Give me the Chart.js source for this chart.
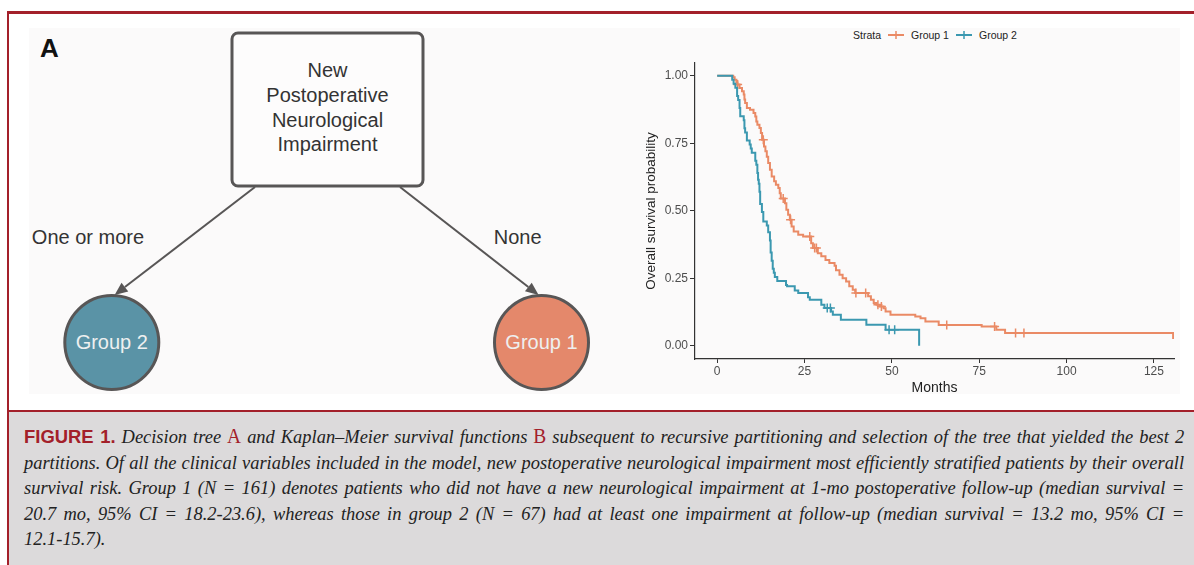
<!DOCTYPE html>
<html>
<head>
<meta charset="utf-8">
<script src="https://cdn.jsdelivr.net/npm/chart.js@4.4.0/dist/chart.umd.min.js"></script>
<style>
  body { margin: 0; width: 1194px; height: 565px; background: #fff; position: relative; overflow: hidden;
         font-family: "Liberation Sans", Arial, sans-serif; }
  .red-line { position: absolute; background: #a3202a; }
  #panel { position: absolute; left: 29px; top: 28px; width: 1151px; height: 366px; background: #fbfafa; }
  #capBox { position: absolute; left: 9px; top: 412px; width: 1185px; height: 153px; background: #dcdadb; }
  #tree { position: absolute; left: 0; top: 0; }
  #km { position: absolute; left: 612px; top: 20px; }
  #legend { position: absolute; left: 853px; top: 28px; height: 14px; font-size: 10.5px; color: #222;
            display: flex; align-items: center; white-space: nowrap; }
  #legend svg { margin: 0 7px 0 7px; }
  .caption { position: absolute; left: 24px; width: 1196px; transform: scaleX(0.97); transform-origin: 0 0;
             font-family: "Liberation Serif", "Times New Roman", serif;
             font-style: italic; font-size: 19px; line-height: 25.5px; color: #222; }
  .caption div { text-align: justify; text-align-last: justify; height: 25.5px; }
  .caption div.last { text-align-last: left; }
  .fig { font-family: "Liberation Sans", Arial, sans-serif; font-style: normal; font-weight: bold; font-size: 19px;
         color: #a3202a; letter-spacing: 0; }
  .lab { font-style: normal; color: #a3202a; font-size: 20px; }
</style>
</head>
<body>
<div class="red-line" style="left:7px;top:11px;width:1187px;height:2.5px"></div>
<div class="red-line" style="left:7px;top:11px;width:2px;height:554px"></div>
<div id="panel"></div>
<div class="red-line" style="left:7px;top:410px;width:1187px;height:2.5px"></div>
<div id="capBox"></div>

<svg id="tree" width="612" height="400" font-family="Liberation Sans, Arial, sans-serif">
  <text x="40" y="57" font-size="26" font-weight="bold" fill="#111">A</text>
  <rect x="232" y="33" width="191" height="153" rx="6" fill="#fdfcfc" stroke="#585656" stroke-width="3"/>
  <g font-size="20" fill="#333" text-anchor="middle" dominant-baseline="central">
    <text x="327.5" y="70">New</text>
    <text x="327.5" y="95">Postoperative</text>
    <text x="327.5" y="119.5">Neurological</text>
    <text x="327.5" y="144">Impairment</text>
    <text x="88" y="237">One or more</text>
    <text x="517.6" y="237">None</text>
  </g>
  <g id="arrows" stroke="#585656" stroke-width="2" fill="#585656"></g>
  <circle cx="111.8" cy="342.5" r="47" fill="#5a93a6" stroke="#585656" stroke-width="3"/>
  <circle cx="541.5" cy="342.5" r="47" fill="#e4886b" stroke="#585656" stroke-width="3"/>
  <g font-size="20" fill="#eef0f0" text-anchor="middle" dominant-baseline="central">
    <text x="111.8" y="342">Group 2</text>
    <text x="541.5" y="342">Group 1</text>
  </g>
  <text x="627" y="56.5" font-size="25" font-weight="bold" fill="#111">B</text>
</svg>

<div id="legend">
  <span>Strata</span>
  <svg width="16" height="10"><line x1="0" y1="5" x2="16" y2="5" stroke="#ea8a65" stroke-width="2"/><line x1="8" y1="1" x2="8" y2="9" stroke="#ea8a65" stroke-width="1.5"/></svg>
  <span>Group 1</span>
  <svg width="16" height="10"><line x1="0" y1="5" x2="16" y2="5" stroke="#3b98b0" stroke-width="2"/><line x1="8" y1="1" x2="8" y2="9" stroke="#3b98b0" stroke-width="1.5"/></svg>
  <span>Group 2</span>
</div>

<canvas id="km" width="568" height="375"></canvas>

<div class="caption" style="top:424px">
  <div><span class="fig">FIGURE 1.</span> Decision tree <span class="lab">A</span> and Kaplan–Meier survival functions <span class="lab">B</span> subsequent to recursive partitioning and selection of the tree that yielded the best 2</div>
  <div>partitions. Of all the clinical variables included in the model, new postoperative neurological impairment most efficiently stratified patients by their overall</div>
  <div>survival risk. Group 1 (N = 161) denotes patients who did not have a new neurological impairment at 1-mo postoperative follow-up (median survival =</div>
  <div>20.7 mo, 95% CI = 18.2-23.6), whereas those in group 2 (N = 67) had at least one impairment at follow-up (median survival = 13.2 mo, 95% CI =</div>
  <div class="last">12.1-15.7).</div>
</div>

<script>
// Kaplan-Meier steps: time (months) and survival after the drop
const group1Time = [0, 4.6, 5.0, 5.5, 5.8, 6.4, 7.1, 7.6, 7.8, 8.0, 8.5, 9.4, 10.4, 10.9, 11.2, 11.5, 12.1, 12.5,
  12.85, 13.4, 13.8, 14.2, 14.6, 15.1, 15.6, 16.3, 16.8, 17.5, 17.9, 18.2, 19.4, 19.8, 20.3, 20.8, 21.3, 21.9,
  23.2, 24.6, 26.9, 27.4, 28.8, 29.8, 31.0, 32.1, 33.6, 34.0, 35.0, 35.9, 36.9, 37.8, 38.8, 39.5, 43.2, 44.0,
  44.8, 45.6, 46.6, 47.6, 48.2, 49.6, 56.7, 58.2, 59.6, 63.4, 75.7, 79.9, 82.4, 130.5];
const group1Surv = [1, 0.994, 0.985, 0.975, 0.967, 0.954, 0.942, 0.93, 0.912, 0.899, 0.88, 0.874, 0.862, 0.849,
  0.83, 0.818, 0.806, 0.788, 0.763, 0.738, 0.72, 0.70, 0.677, 0.652, 0.627, 0.609, 0.596, 0.584, 0.565, 0.545,
  0.528, 0.504, 0.485, 0.467, 0.442, 0.423, 0.411, 0.405, 0.38, 0.362, 0.343, 0.331, 0.318, 0.306, 0.296, 0.28,
  0.263, 0.25, 0.238, 0.22, 0.207, 0.195, 0.183, 0.17, 0.158, 0.152, 0.145, 0.139, 0.127, 0.115, 0.108, 0.102,
  0.09, 0.077, 0.071, 0.059, 0.047, 0.025];
const group1Censor = [5.85, 13.2, 18.9, 21.0, 26.5, 27.9, 28.4, 39.7, 42.5, 46.0, 47.0, 65.7, 79.4, 85.4, 87.8];

const group2Time = [0, 4.3, 4.7, 5.2, 5.7, 6.0, 6.4, 6.6, 7.6, 7.8, 8.0, 8.5, 9.3, 9.6, 9.9, 10.9, 11.2, 11.5,
  11.7, 11.9, 12.1, 12.3, 12.8, 13.2, 14.2, 14.6, 15.1, 15.3, 15.6, 15.9, 16.2, 16.5, 17.2, 19.7, 20.0, 22.2,
  23.2, 26.0, 26.5, 29.8, 30.7, 32.6, 33.1, 35.4, 42.7, 48.2, 57.8];
const group2Surv = [1, 0.985, 0.97, 0.955, 0.925, 0.91, 0.88, 0.85, 0.835, 0.805, 0.79, 0.76, 0.745, 0.73, 0.715,
  0.685, 0.67, 0.64, 0.615, 0.60, 0.57, 0.525, 0.495, 0.46, 0.445, 0.42, 0.39, 0.345, 0.315, 0.285, 0.27, 0.255,
  0.24, 0.225, 0.22, 0.205, 0.195, 0.18, 0.17, 0.152, 0.14, 0.127, 0.115, 0.096, 0.078, 0.059, 0];
const group2Censor = [31.5, 32.4, 49.2, 50.8];

const xTicks = [0, 25, 50, 75, 100, 125];
const yTicks = [0, 0.25, 0.5, 0.75, 1];

const orange = '#ea8a65';
const blue = '#3b98b0';

// arrows of the decision tree
const arrows = [[255, 187, 114.6, 295], [400, 187, 538.6, 295]];
const arrowG = document.getElementById('arrows');
arrows.forEach(([x1, y1, x2, y2]) => {
  const len = Math.hypot(x2 - x1, y2 - y1);
  const ux = (x2 - x1) / len, uy = (y2 - y1) / len;
  const bx = x2 - ux * 13, by = y2 - uy * 13;
  const px = -uy * 5.5, py = ux * 5.5;
  arrowG.innerHTML += `<line x1="${x1}" y1="${y1}" x2="${bx}" y2="${by}"/>` +
    `<polygon stroke="none" points="${x2},${y2} ${bx + px},${by + py} ${bx - px},${by - py}"/>`;
});

const toPoints = (t, s) => t.map((v, i) => ({ x: v, y: s[i] }));
const survAt = (t, s, x) => {
  let v = s[0];
  t.forEach((tv, i) => { if (tv <= x) v = s[i]; });
  return v;
};
const censorPoints = (c, t, s) => c.map((x) => ({ x, y: survAt(t, s, x) }));

const curve = (label, data, color, order) => ({
  label, data, borderColor: color, borderWidth: 2, stepped: true, pointRadius: 0, fill: false, order,
});
const marks = (label, data, color, order) => ({
  label, data, showLine: false, pointStyle: 'cross', pointRadius: 4.5, borderColor: color,
  pointBorderWidth: 1.5, backgroundColor: color, order,
});

Chart.defaults.font.family = '"Liberation Sans", Arial, sans-serif';

// eslint-disable-next-line no-unused-vars
const chart = new Chart(document.getElementById('km'), {
  type: 'line',
  data: {
    datasets: [
      curve('Group 2', toPoints(group2Time, group2Surv), blue, 0),
      marks('Group 2 censored', censorPoints(group2Censor, group2Time, group2Surv), blue, 0),
      curve('Group 1', toPoints(group1Time, group1Surv), orange, 1),
      marks('Group 1 censored', censorPoints(group1Censor, group1Time, group1Surv), orange, 1),
    ],
  },
  options: {
    responsive: false,
    animation: false,
    layout: { padding: { top: 43, right: 3, left: 0, bottom: 0 } },
    scales: {
      x: {
        type: 'linear',
        min: -6.35,
        max: 130.75,
        afterBuildTicks: (s) => { s.ticks = xTicks.map((v) => ({ value: v })); },
        afterFit: (s) => { s.height = 36; },
        grid: { drawOnChartArea: false, tickLength: 4, color: '#333' },
        border: { color: '#333', width: 1.2 },
        ticks: { color: '#4d4d4d', font: { size: 12 }, padding: 1, maxRotation: 0, autoSkip: false },
        title: {
          display: true, text: 'Months', color: '#222', font: { size: 14 }, padding: { top: 0, bottom: -2 },
        },
      },
      y: {
        min: -0.049,
        max: 1.047,
        afterBuildTicks: (s) => { s.ticks = yTicks.map((v) => ({ value: v })); },
        afterFit: (s) => { s.width = 83; },
        grid: { drawOnChartArea: false, tickLength: 5, color: '#333' },
        border: { color: '#333', width: 1.2 },
        ticks: { color: '#4d4d4d', font: { size: 12 }, padding: 2, callback: (v) => v.toFixed(2) },
        title: {
          display: true, text: 'Overall survival probability', color: '#222', font: { size: 13.5 },
          padding: { top: 31, bottom: 0 },
        },
      },
    },
    plugins: {
      legend: { display: false },
      tooltip: { enabled: false },
    },
  },
});
</script>
</body>
</html>
